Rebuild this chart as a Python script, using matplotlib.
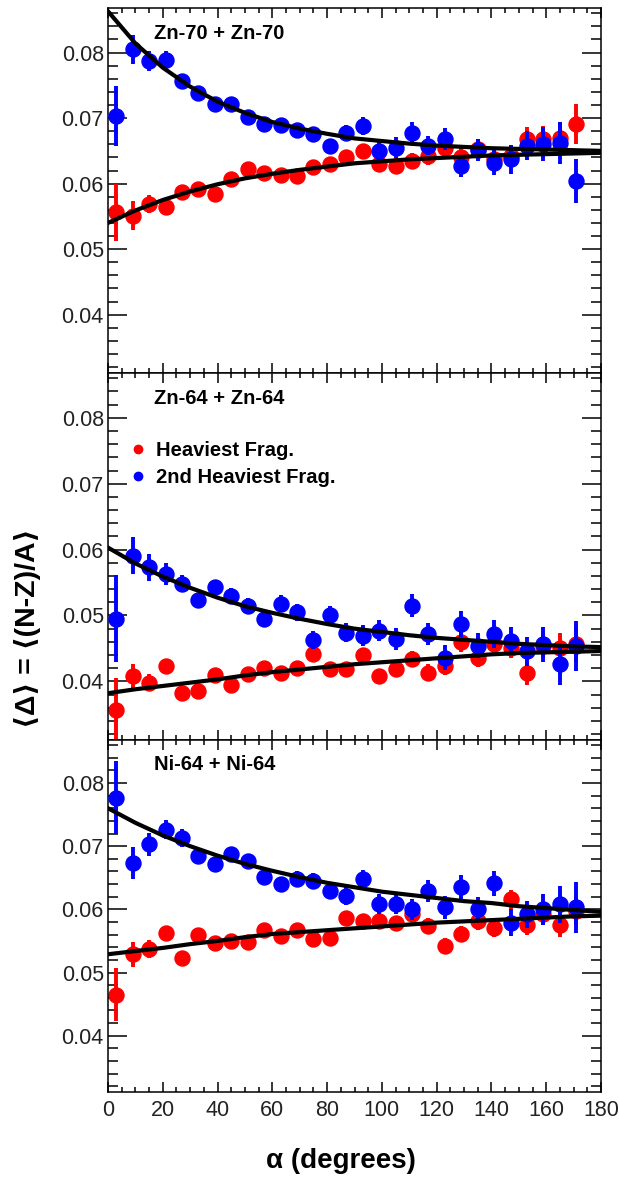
import matplotlib
matplotlib.use("Agg")
import matplotlib.pyplot as plt
from matplotlib.lines import Line2D
from matplotlib.ticker import MultipleLocator, FormatStrFormatter

plt.rcParams['font.family'] = ['Liberation Sans', 'DejaVu Sans']

# bin centres (degrees)
alpha = [3, 9, 15, 21, 27, 33, 39, 45, 51, 57, 63, 69, 75, 81, 87,
         93, 99, 105, 111, 117, 123, 129, 135, 141, 147, 153, 159, 165, 171]
# points
alpha_fit = [0, 10, 20, 30, 40, 50, 60, 70, 80, 90, 100, 110, 120, 130, 140, 150, 160, 170, 180]

titles = ['Zn-70 + Zn-70', 'Zn-64 + Zn-64', 'Ni-64 + Ni-64']

# Zn-70 + Zn-70
zn70_heavy = [0.0556, 0.0551, 0.0569, 0.0565, 0.0587, 0.0592, 0.0584, 0.0607, 0.0622, 0.0616,
              0.0613, 0.0612, 0.0625, 0.0630, 0.0641, 0.0650, 0.0630, 0.0627, 0.0635, 0.0642,
              0.0655, 0.0640, 0.0653, 0.0637, 0.0642, 0.0668, 0.0668, 0.0670, 0.0691]
zn70_heavy_err = [0.0043, 0.0022, 0.0014, 0.0010, 0.0009, 0.0008, 0.0008, 0.0008, 0.0008, 0.0008,
                  0.0008, 0.0008, 0.0009, 0.0009, 0.0010, 0.0011, 0.0011, 0.0012, 0.0012, 0.0013,
                  0.0014, 0.0014, 0.0015, 0.0016, 0.0017, 0.0018, 0.0020, 0.0024, 0.0030]
zn70_second = [0.0703, 0.0805, 0.0787, 0.0789, 0.0756, 0.0739, 0.0721, 0.0721, 0.0701, 0.0691,
               0.0689, 0.0682, 0.0675, 0.0658, 0.0678, 0.0688, 0.0650, 0.0655, 0.0678, 0.0658,
               0.0668, 0.0627, 0.0651, 0.0632, 0.0637, 0.0658, 0.0660, 0.0662, 0.0604]
zn70_second_err = [0.0046, 0.0022, 0.0015, 0.0013, 0.0010, 0.0009, 0.0008, 0.0008, 0.0008, 0.0008,
                   0.0008, 0.0009, 0.0009, 0.0010, 0.0012, 0.0014, 0.0015, 0.0016, 0.0016, 0.0015,
                   0.0017, 0.0017, 0.0017, 0.0019, 0.0022, 0.0022, 0.0026, 0.0032, 0.0034]
zn70_heavy_fit = [0.0540, 0.0559, 0.0575, 0.0588, 0.0599, 0.0608, 0.0615, 0.0621, 0.0626, 0.0631,
                  0.0634, 0.0637, 0.0639, 0.0641, 0.0643, 0.0644, 0.0645, 0.0646, 0.0647]
zn70_second_fit = [0.0863, 0.0814, 0.0777, 0.0748, 0.0725, 0.0708, 0.0694, 0.0684, 0.0676, 0.0669,
                   0.0665, 0.0661, 0.0658, 0.0656, 0.0654, 0.0653, 0.0652, 0.0651, 0.0650]

# Zn-64 + Zn-64
zn64_heavy = [0.0357, 0.0408, 0.0398, 0.0423, 0.0383, 0.0385, 0.0409, 0.0395, 0.0411, 0.0421,
              0.0412, 0.0421, 0.0441, 0.0418, 0.0419, 0.0440, 0.0408, 0.0418, 0.0434, 0.0413,
              0.0423, 0.0459, 0.0436, 0.0456, 0.0451, 0.0412, 0.0454, 0.0451, 0.0456]
zn64_heavy_err = [0.0048, 0.0018, 0.0013, 0.0010, 0.0009, 0.0008, 0.0008, 0.0008, 0.0008, 0.0008,
                  0.0008, 0.0008, 0.0009, 0.0009, 0.0010, 0.0011, 0.0011, 0.0012, 0.0012, 0.0013,
                  0.0013, 0.0014, 0.0014, 0.0015, 0.0016, 0.0017, 0.0019, 0.0022, 0.0026]
zn64_second = [0.0495, 0.0591, 0.0573, 0.0563, 0.0548, 0.0523, 0.0543, 0.0530, 0.0514, 0.0494,
               0.0518, 0.0505, 0.0463, 0.0501, 0.0474, 0.0469, 0.0477, 0.0464, 0.0515, 0.0472,
               0.0436, 0.0487, 0.0454, 0.0472, 0.0462, 0.0446, 0.0456, 0.0426, 0.0454]
zn64_second_err = [0.0066, 0.0028, 0.0021, 0.0016, 0.0013, 0.0011, 0.0011, 0.0011, 0.0012, 0.0012,
                   0.0013, 0.0013, 0.0014, 0.0014, 0.0015, 0.0016, 0.0016, 0.0017, 0.0017, 0.0017,
                   0.0019, 0.0020, 0.0019, 0.0021, 0.0021, 0.0022, 0.0026, 0.0031, 0.0038]
zn64_heavy_fit = [0.0382, 0.0388, 0.0393, 0.0398, 0.0403, 0.0409, 0.0414, 0.0418, 0.0422, 0.0426,
                  0.0429, 0.0432, 0.0435, 0.0438, 0.0441, 0.0443, 0.0444, 0.0445, 0.0446]
zn64_second_fit = [0.0603, 0.0579, 0.0559, 0.0542, 0.0527, 0.0514, 0.0504, 0.0495, 0.0487, 0.0480,
                   0.0475, 0.0470, 0.0466, 0.0463, 0.0460, 0.0457, 0.0455, 0.0453, 0.0452]

# Ni-64 + Ni-64
ni64_heavy = [0.0465, 0.0529, 0.0537, 0.0563, 0.0523, 0.0560, 0.0547, 0.0550, 0.0549, 0.0568,
              0.0558, 0.0567, 0.0553, 0.0555, 0.0587, 0.0582, 0.0582, 0.0579, 0.0592, 0.0574,
              0.0542, 0.0561, 0.0582, 0.0571, 0.0616, 0.0576, 0.0592, 0.0576, 0.0598]
ni64_heavy_err = [0.0042, 0.0020, 0.0014, 0.0010, 0.0009, 0.0008, 0.0008, 0.0008, 0.0008, 0.0008,
                  0.0008, 0.0009, 0.0009, 0.0009, 0.0010, 0.0010, 0.0011, 0.0011, 0.0012, 0.0012,
                  0.0013, 0.0013, 0.0014, 0.0014, 0.0015, 0.0016, 0.0017, 0.0019, 0.0022]
ni64_second = [0.0777, 0.0673, 0.0703, 0.0726, 0.0713, 0.0684, 0.0671, 0.0688, 0.0677, 0.0651,
               0.0640, 0.0648, 0.0645, 0.0629, 0.0621, 0.0648, 0.0608, 0.0608, 0.0600, 0.0629,
               0.0603, 0.0635, 0.0600, 0.0641, 0.0579, 0.0592, 0.0600, 0.0608, 0.0603]
ni64_second_err = [0.0058, 0.0025, 0.0018, 0.0015, 0.0014, 0.0011, 0.0011, 0.0011, 0.0011, 0.0012,
                   0.0012, 0.0012, 0.0013, 0.0013, 0.0014, 0.0015, 0.0016, 0.0016, 0.0017, 0.0017,
                   0.0018, 0.0019, 0.0019, 0.0020, 0.0021, 0.0022, 0.0024, 0.0029, 0.0040]
ni64_heavy_fit = [0.0529, 0.0534, 0.0539, 0.0545, 0.0550, 0.0556, 0.0561, 0.0564, 0.0567, 0.0570,
                  0.0573, 0.0576, 0.0579, 0.0581, 0.0583, 0.0585, 0.0587, 0.0589, 0.0590]
ni64_second_fit = [0.0760, 0.0737, 0.0717, 0.0700, 0.0685, 0.0672, 0.0661, 0.0651, 0.0642, 0.0635,
                   0.0628, 0.0623, 0.0618, 0.0613, 0.0610, 0.0605, 0.0602, 0.0599, 0.0596]

panels = [
    (zn70_heavy, zn70_heavy_err, zn70_second, zn70_second_err, zn70_heavy_fit, zn70_second_fit),
    (zn64_heavy, zn64_heavy_err, zn64_second, zn64_second_err, zn64_heavy_fit, zn64_second_fit),
    (ni64_heavy, ni64_heavy_err, ni64_second, ni64_second_err, ni64_heavy_fit, ni64_second_fit),
]

W, H = 619, 1177
fig = plt.figure(figsize=(W / 100, H / 100), dpi=100)

left, right = 108 / W, 601 / W
edges = [8, 373, 740, 1092]   # pixel rows of panel borders

for i, (heavy, heavy_err, second, second_err, heavy_fit, second_fit) in enumerate(panels):
    top, bot = edges[i], edges[i + 1]
    ax = fig.add_axes([left, 1 - bot / H, right - left, (bot - top) / H])

    ax.errorbar(alpha, heavy, yerr=heavy_err, fmt='o', color='red', ms=10.8,
                elinewidth=2.8, capsize=0, zorder=2)
    ax.errorbar(alpha, second, yerr=second_err, fmt='o', color='blue', ms=10.8,
                elinewidth=2.8, capsize=0, zorder=3)
    ax.plot(alpha_fit, heavy_fit, color='black', lw=3, zorder=4)
    ax.plot(alpha_fit, second_fit, color='black', lw=3, zorder=4)

    ax.set_xlim(0, 180)
    ax.set_ylim(0.0311, 0.0868)
    ax.xaxis.set_major_locator(MultipleLocator(20))
    ax.xaxis.set_minor_locator(MultipleLocator(5))
    ax.yaxis.set_major_locator(MultipleLocator(0.01))
    ax.yaxis.set_minor_locator(MultipleLocator(0.002))
    ax.yaxis.set_major_formatter(FormatStrFormatter('%.2f'))
    ax.tick_params(which='both', direction='in', top=True, right=True, width=1.1,
                   labelsize=15.5, labelcolor='#222222')
    ax.tick_params(axis='y', which='major', length=14, pad=3)
    ax.tick_params(axis='y', which='minor', length=7)
    ax.tick_params(axis='x', which='major', length=7, pad=6)
    ax.tick_params(axis='x', which='minor', length=3.6)
    for s in ax.spines.values():
        s.set_linewidth(1.1)
    if i < 2:
        ax.tick_params(axis='x', labelbottom=False)

    ax.text(0.093, 0.93, titles[i], transform=ax.transAxes, fontsize=14.5,
            fontweight='bold', va='center', ha='left')

    if i == 1:
        handles = [Line2D([], [], marker='o', ls='none', color='red', ms=6, label='Heaviest Frag.'),
                   Line2D([], [], marker='o', ls='none', color='blue', ms=6, label='2nd Heaviest Frag.')]
        ax.legend(handles=handles, loc='upper left', bbox_to_anchor=(0.04, 0.815),
                  frameon=False, prop=dict(size=14.5, weight='bold'), handlelength=1.0,
                  handletextpad=0.4, labelspacing=0.42, borderaxespad=0, borderpad=0)

fig.text(0.044, 1 - 628 / H, '⟨Δ⟩ = ⟨(N-Z)/A⟩', rotation=90, ha='center', va='center',
         fontsize=20.5, fontweight='bold')
fig.text(341 / W, 1 - 1161 / H, 'α (degrees)', ha='center', va='center',
         fontsize=20, fontweight='bold')

fig.savefig('out.png', dpi=100)
